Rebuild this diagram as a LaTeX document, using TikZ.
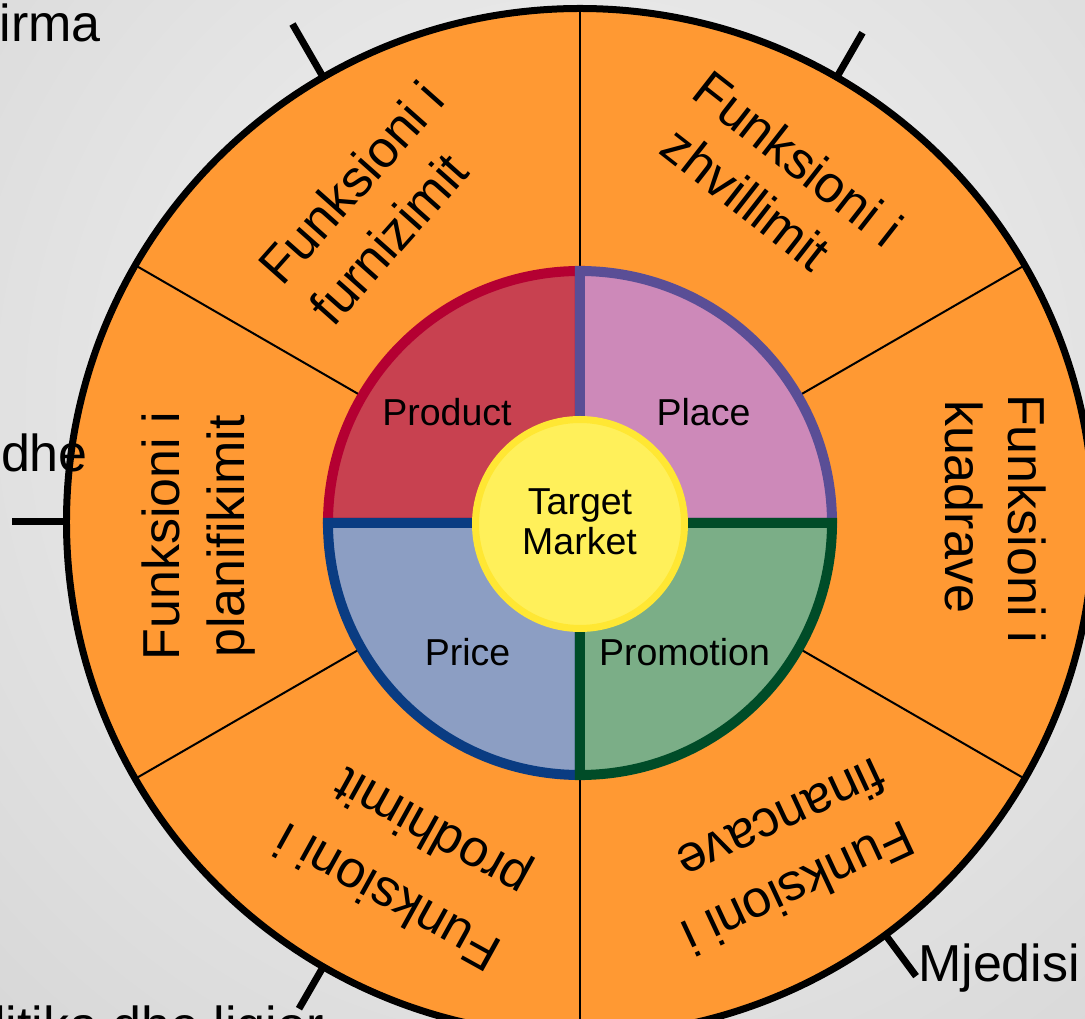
\documentclass[tikz,border=0pt]{standalone}
\usepackage{fontspec}
\setmainfont{Liberation Sans}
\definecolor{bgin}{HTML}{F4F4F4}
\definecolor{bgout}{HTML}{B8B8B8}
\definecolor{wheel}{HTML}{FF9933}
\definecolor{prodfill}{HTML}{C84150}
\definecolor{prodline}{HTML}{B40032}
\definecolor{placefill}{HTML}{CD89B9}
\definecolor{placeline}{HTML}{5A4E96}
\definecolor{pricefill}{HTML}{8C9EC3}
\definecolor{priceline}{HTML}{0A3C82}
\definecolor{promofill}{HTML}{7BAE87}
\definecolor{promoline}{HTML}{004C28}
\definecolor{tmfill}{HTML}{FFF05A}
\definecolor{tmline}{HTML}{FFE733}
\pgfdeclareradialshading{bgshade}{\pgfpointorigin}{color(0bp)=(bgin); color(50bp)=(bgout)}
\tikzset{
  biglabel/.style={anchor=base, font=\fontsize{52}{62}\selectfont, inner sep=0pt},
  mixlabel/.style={anchor=base, font=\fontsize{37.5}{45}\selectfont, inner sep=0pt},
  quarter/.style={line width=10pt, line join=miter},
  tickmark/.style={line width=7pt, line cap=butt},
  divider/.style={line width=2pt},
}
\begin{document}
\begin{tikzpicture}[x=1pt,y=1pt]
\useasboundingbox (-580,-497) rectangle (505,522);
\begin{scope}
\clip (-580,-497) rectangle (505,522);
\shade[shading=bgshade] (0,122) circle (900);
% outer wheel
\fill[wheel] (0,0) circle (513.5);
\foreach \a in {30,90,...,330} \draw[divider] (\a:250) -- (\a:513);
\draw[line width=7pt] (0,0) circle (513.5);
% tick marks
\draw[tickmark] (120:513) -- (120:575);
\draw[tickmark] (60:513) -- (60:565);
\draw[tickmark] (180:513) -- (180:568);
\draw[tickmark] (240:513) -- (240:562);
\draw[tickmark] (-53.5:513) -- (-53.5:565);
% marketing mix quarters
\draw[quarter, fill=prodfill, draw=prodline] (0,-1) -- ++(90:252) arc[start angle=90, end angle=180, radius=252] -- cycle;
\draw[quarter, fill=placefill, draw=placeline] (0,-1) -- ++(0:252) arc[start angle=0, end angle=90, radius=252] -- cycle;
\draw[quarter, fill=pricefill, draw=priceline] (0,-1) -- ++(180:252) arc[start angle=180, end angle=270, radius=252] -- cycle;
\draw[quarter, fill=promofill, draw=promoline] (0,-1) -- ++(270:252) arc[start angle=270, end angle=360, radius=252] -- cycle;
\draw[line width=7pt, fill=tmfill, draw=tmline] (0,-2) circle (104.5);
% inner labels
\node[mixlabel] (product) at (-133,96.3) {Product};
\node[mixlabel] (place) at (123.5,96.3) {Place};
\node[mixlabel] (price) at (-112.5,-144) {Price};
\node[mixlabel] (promotion) at (104.5,-144) {Promotion};
\node[mixlabel] (target) at (0,7) {Target};
\node[mixlabel] (market) at (-0.5,-33) {Market};
% sector labels
\node[biglabel, rotate=48.4] (furn1) at (-215,327) {Funksioni i};
\node[biglabel, rotate=48.4] (furn2) at (-177.5,271) {furnizimit};
\node[biglabel, rotate=-38] (zhv1) at (207,349) {Funksioni i};
\node[biglabel, rotate=-38] (zhv2) at (155,309) {zhvillimit};
\node[biglabel, rotate=90] (plan1) at (-400,-14) {Funksioni i};
\node[biglabel, rotate=90] (plan2) at (-335,-14.5) {planifikimit};
\node[biglabel, rotate=-90] (kuad1) at (428,3.5) {Funksioni i};
\node[biglabel, rotate=-90] (kuad2) at (365,15) {kuadrave};
\node[biglabel, rotate=151] (prod1) at (-184,-360) {Funksioni i};
\node[biglabel, rotate=151] (prod2) at (-140,-296) {prodhimit};
\node[biglabel, rotate=205] (fin1) at (211,-350) {Funksioni i};
\node[biglabel, rotate=205] (fin2) at (194,-282) {financave};
% outer texts
\node[biglabel, anchor=base east] (firma) at (-479,480) {irma};
\node[biglabel, anchor=base east] (dhe) at (-492,50) {dhe};
\node[biglabel, anchor=base west] (mjedisi) at (338,-460) {Mjedisi};
\node[biglabel, anchor=base east] (ligjor) at (-256,-521) {litika dhe ligjor};
\end{scope}
\end{tikzpicture}
\end{document}
